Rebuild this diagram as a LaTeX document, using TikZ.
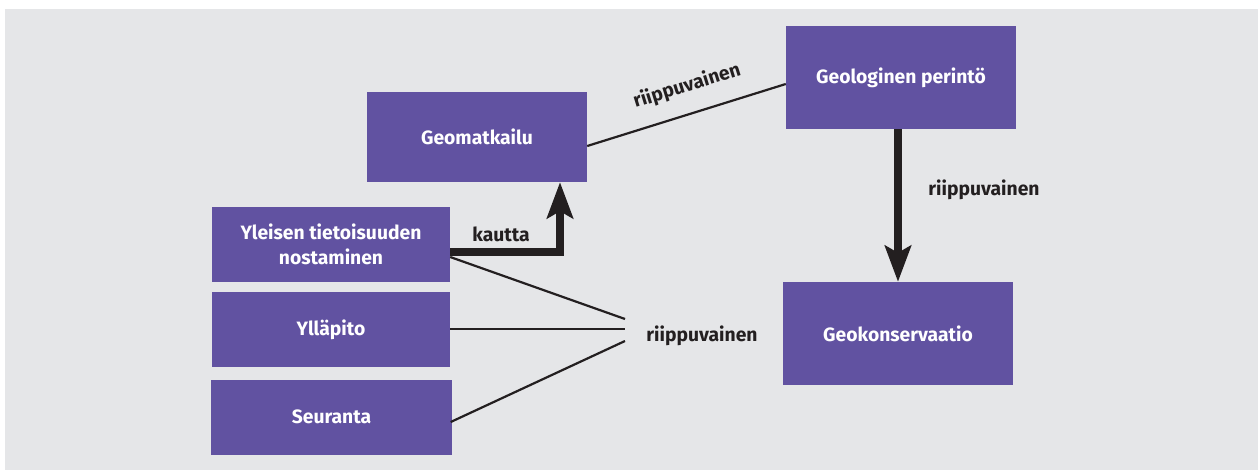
\documentclass[tikz,border=0pt]{standalone}
\usepackage{fontspec}
\setmainfont{Fira Sans}
\usetikzlibrary{arrows.meta}
\definecolor{boxfill}{HTML}{6152A1}
\definecolor{panel}{HTML}{E5E6E8}
\definecolor{ink}{HTML}{231F20}
\tikzset{
  box/.style={fill=boxfill, text=white, font=\bfseries\fontsize{19.3}{25}\selectfont,
    align=center, inner sep=0pt, anchor=center},
  lbl/.style={text=ink, font=\bfseries\fontsize{19.3}{21}\selectfont, inner sep=0pt},
  thin/.style={draw=ink, line width=2.2pt},
  thick/.style={draw=ink, line width=7.5pt, line join=miter,
    -{Stealth[length=36pt, width=26pt, inset=7pt]}},
}
\begin{document}
\begin{tikzpicture}[x=1pt, y=-1pt]
\useasboundingbox (0,0) rectangle (1258,471);
\fill[panel] (5,9) rectangle (1258,470);

% boxes
\node[box, minimum width=220pt, minimum height=90pt] (geomat) at (477,137) {Geomatkailu};
\node[box, minimum width=230pt, minimum height=103pt] (geoper) at (901,77.5) {Geologinen perintö};
\node[box, minimum width=230pt, minimum height=103pt] (geokon) at (898,333.5) {Geokonservaatio};
\node[box, minimum width=238pt, minimum height=75pt] (yleisen) at (331,244.5) {Yleisen tietoisuuden\\nostaminen};
\node[box, minimum width=238pt, minimum height=75pt] (yllapito) at (331,329.5) {Ylläpito};
\node[box, minimum width=241pt, minimum height=75pt] (seuranta) at (331.5,417) {Seuranta};

% labels
\node[lbl, rotate=17.3] (dep1) at (687,86) {riippuvainen};
\node[lbl] (dep2) at (984,190) {riippuvainen};
\node[lbl] (via) at (501,234) {kautta};
\node[lbl] (dep3) at (702,336) {riippuvainen};

% free ends of the converging lines
\coordinate (m1) at (625,319);
\coordinate (m2) at (625,329);
\coordinate (m3) at (625,341);

% connectors
\draw[thin] ([yshift=-9pt]geomat.east) -- ([yshift=-6.5pt]geoper.west);
\draw[thick] ([yshift=-7.5pt]yleisen.east) -| ([xshift=83pt]geomat.south);
\draw[thick, line width=8pt] ([xshift=-3pt]geoper.south) -- (geokon.north);
\draw[thin] ([yshift=-12.5pt]yleisen.east) -- (m1);
\draw[thin] ([yshift=0.5pt]yllapito.east) -- (m2);
\draw[thin] ([xshift=-1.5pt,yshift=-5pt]seuranta.east) -- (m3);
\end{tikzpicture}
\end{document}
